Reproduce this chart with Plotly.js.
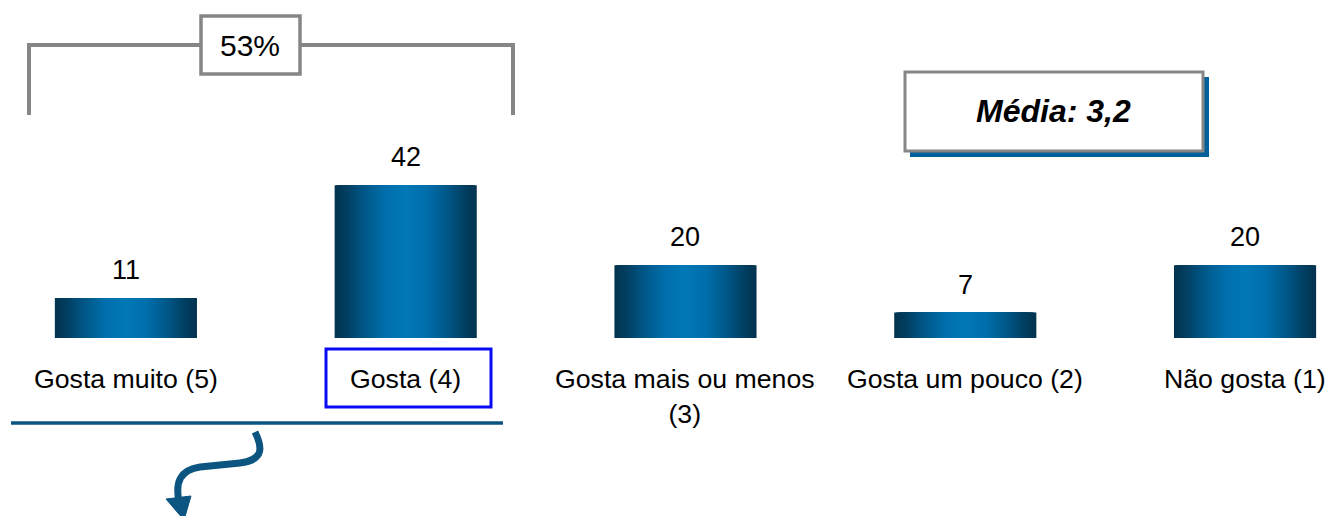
<!DOCTYPE html>
<html>
<head>
<meta charset="utf-8">
<script src="https://cdn.plot.ly/plotly-3.0.1.min.js"></script>
<style>
  html, body { margin: 0; padding: 0; background: #ffffff; }
  #chart { width: 1329px; height: 516px; }
</style>
</head>
<body>
<div id="chart"></div>
<script>
// ---- data ----
const categories = ["Gosta muito (5)", "Gosta (4)", "Gosta mais ou menos (3)", "Gosta um pouco (2)", "Não gosta (1)"];
const tickLabels = ["Gosta muito (5)", "Gosta (4)", "Gosta mais ou menos<br>(3)", "Gosta um pouco (2)", "Não gosta (1)"];
const values = [11, 42, 20, 7, 20];
const valueLabels = ["11", "42", "20", "7", "20"];
const bracketLabel = "53%";
const meanLabel = "<b><i>Média: 3,2</i></b>";

// ---- layout helpers ----
const W = 1329, H = 516;
const FONT = "Arial, 'Liberation Sans', sans-serif";
const px = v => v / W;
const py = v => 1 - v / H;

// gradient: stops from edge (t=0) to centre (t=1)
const stops = [
  [0.00, [3, 52, 80]],
  [0.15, [2, 62, 96]],
  [0.40, [0, 86, 134]],
  [0.70, [0, 110, 170]],
  [1.00, [0, 120, 182]]
];
function gradColor(t) {
  for (let i = 1; i < stops.length; i++) {
    if (t <= stops[i][0]) {
      const a = stops[i - 1], b = stops[i];
      const f = (t - a[0]) / (b[0] - a[0]);
      const c = a[1].map((v, j) => Math.round(v + (b[1][j] - v) * f));
      return "rgb(" + c.join(",") + ")";
    }
  }
  const c = stops[stops.length - 1][1];
  return "rgb(" + c.join(",") + ")";
}

const BAR_W = 0.508;
const N = 40;
const traces = [];
for (let k = 0; k < N; k++) {
  const t = k / (N - 1);
  traces.push({
    type: "bar",
    x: categories,
    y: values,
    width: categories.map(() => BAR_W * (1 - k / N)),
    marker: { color: gradColor(t), line: { width: 0 } },
    hoverinfo: "skip",
    showlegend: false
  });
}

const annotations = [];
categories.forEach((c, i) => {
  annotations.push({
    x: c, y: values[i], xref: "x", yref: "y",
    text: valueLabels[i], showarrow: false,
    yanchor: "middle", yshift: 28,
    font: { family: FONT, size: 27, color: "#000000" }
  });
  annotations.push({
    x: c, y: 0, xref: "x", yref: "y",
    text: tickLabels[i], showarrow: false,
    yanchor: "top", yshift: -24,
    font: { family: FONT, size: 26.7, color: "#000000" }
  });
});
annotations.push({
  x: px(250), y: py(45), xref: "paper", yref: "paper",
  text: bracketLabel, showarrow: false, xanchor: "center", yanchor: "middle",
  font: { family: FONT, size: 30, color: "#000000" }
});
annotations.push({
  x: px(1053), y: py(111), xref: "paper", yref: "paper",
  text: meanLabel, showarrow: false, xanchor: "center", yanchor: "middle",
  font: { family: FONT, size: 32, color: "#000000" }
});

function pathFrom(pts) {
  return pts.map(p => typeof p === "string" ? p : (px(p[0]).toFixed(5) + "," + py(p[1]).toFixed(5))).join(" ");
}

const gray = "#868686";
const teal = "#0B5580";
const shapes = [
  // bracket
  { type: "path", xref: "paper", yref: "paper",
    path: pathFrom(["M", [29, 115], "L", [29, 45], "L", [513, 45], "L", [513, 115]]),
    line: { color: gray, width: 4 } },
  { type: "rect", xref: "paper", yref: "paper",
    x0: px(201), x1: px(300), y0: py(74), y1: py(16),
    fillcolor: "#ffffff", line: { color: gray, width: 3.5 } },
  // mean box shadow + box
  { type: "rect", xref: "paper", yref: "paper",
    x0: px(910), x1: px(1209), y0: py(157), y1: py(77),
    fillcolor: "#00609C", line: { width: 0 } },
  { type: "rect", xref: "paper", yref: "paper",
    x0: px(905), x1: px(1203), y0: py(151), y1: py(72),
    fillcolor: "#ffffff", line: { color: gray, width: 3 } },
  // blue highlight around "Gosta (4)"
  { type: "rect", xref: "paper", yref: "paper",
    x0: px(326), x1: px(491), y0: py(407), y1: py(349),
    line: { color: "#0A0AF5", width: 3 } },
  // teal underline
  { type: "line", xref: "paper", yref: "paper",
    x0: px(11), x1: px(503), y0: py(423), y1: py(423),
    line: { color: teal, width: 3.5 } },
  // curved arrow
  { type: "path", xref: "paper", yref: "paper",
    path: pathFrom(["M", [255, 432], "C", [262, 446], [265, 460], [240, 463],
                    "L", [200, 467], "C", [180, 470], [175, 482], [179, 502]]),
    line: { color: teal, width: 7 } },
  { type: "path", xref: "paper", yref: "paper",
    path: pathFrom(["M", [166, 499], "L", [191, 496], "L", [184, 520], "Z"]),
    fillcolor: teal, line: { color: teal, width: 1 } }
];

const layout = {
  width: W, height: H,
  margin: { l: 0, r: 0, t: 0, b: 0, pad: 0 },
  paper_bgcolor: "#ffffff", plot_bgcolor: "#ffffff",
  barmode: "overlay",
  showlegend: false,
  xaxis: { type: "category", range: [-0.45, 4.3], showticklabels: false, showgrid: false,
           zeroline: false, showline: false, ticks: "", fixedrange: true },
  yaxis: { range: [-48.9, 92.86], showticklabels: false, showgrid: false,
           zeroline: false, showline: false, ticks: "", fixedrange: true },
  annotations: annotations,
  shapes: shapes
};

Plotly.newPlot("chart", traces, layout, { displayModeBar: false, staticPlot: true });
</script>
</body>
</html>
